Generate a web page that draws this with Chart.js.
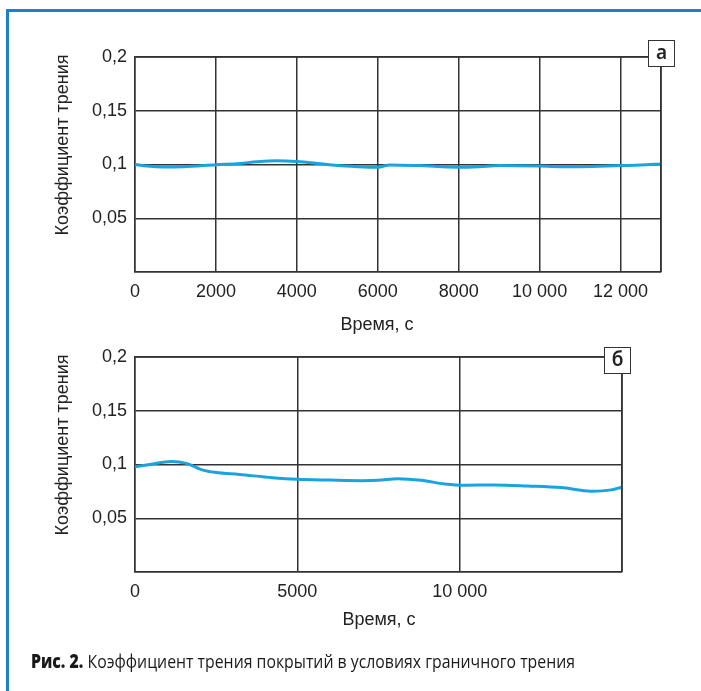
<!DOCTYPE html>
<html>
<head>
<meta charset="utf-8">
<script src="https://cdn.jsdelivr.net/npm/chart.js@4.4.0/dist/chart.umd.min.js"></script>
<style>
  html, body { margin: 0; padding: 0; background: #fff; }
  body { width: 701px; height: 691px; position: relative; overflow: hidden; font-family: "Liberation Sans", Arial, sans-serif; }
  .frame { position: absolute; left: 6px; top: 9px; width: 720px; height: 720px; border-left: 3px solid #1f80c4; border-top: 3px solid #1f80c4; }
  .wrap { position: absolute; left: 0; width: 701px; height: 340px; }
  .ytitle { position: absolute; font-size: 18px; color: #222; white-space: nowrap; transform: translate(-50%, -50%) rotate(-90deg); }
  .xtitle { position: absolute; font-size: 18px; color: #222; white-space: nowrap; transform: translate(-50%, -50%); }
  .tag { position: absolute; width: 27px; height: 27px; background: #fff; border: 1.5px solid #333; box-sizing: border-box; font-family: "Noto Sans", sans-serif; font-size: 19px; font-weight: 600; color: #222; text-align: center; line-height: 22px; }
  .caption { position: absolute; left: 31px; top: 648px; font-family: "Open Sans", sans-serif; font-size: 19px; color: #1a1a1a; white-space: nowrap; transform-origin: left top; }
  .caption b { font-weight: 800; }
</style>
</head>
<body>
<div class="frame"></div>
<div class="wrap" style="top:0px"><canvas id="c1" width="701" height="340"></canvas></div>
<div class="wrap" style="top:300px"><canvas id="c2" width="701" height="340"></canvas></div>

<div class="ytitle" style="left:62px; top:145px">Коэффициент трения</div>
<div class="xtitle" style="left:377px; top:324px">Время, с</div>
<div class="ytitle" style="left:62px; top:445px">Коэффициент трения</div>
<div class="xtitle" style="left:379px; top:619px">Время, с</div>

<div class="tag" style="left:648px; top:40px">a</div>
<div class="tag" style="left:604px; top:347px">б</div>

<div class="caption" id="cap"><b>Рис. 2.</b> Коэффициент трения покрытий в условиях граничного трения</div>

<script>
// ---- data (a) ----
const topTime = [0, 300, 700, 1200, 2000, 2600, 3000, 3500, 4000, 4500, 5000, 5500, 6000, 6300, 7000, 8000, 8500, 9000, 10000, 10500, 11000, 12000, 12500, 13000];
const topCoef = [0.1, 0.0985, 0.0977, 0.098, 0.0998, 0.101, 0.1025, 0.1035, 0.1027, 0.101, 0.099, 0.098, 0.0975, 0.0996, 0.099, 0.0975, 0.098, 0.099, 0.0985, 0.098, 0.098, 0.099, 0.0995, 0.1005];
const topXTicks = [0, 2000, 4000, 6000, 8000, 10000, 12000];
const topXLabels = ['0', '2000', '4000', '6000', '8000', '10 000', '12 000'];
const topXMax = 13000;

// ---- data (б) ----
const botTime = [0, 460, 1120, 1580, 2090, 2500, 3210, 4230, 5000, 6000, 7000, 7485, 8100, 8820, 9540, 10150, 11080, 12100, 13130, 14050, 14670, 15000];
const botCoef = [0.0979, 0.1, 0.1028, 0.101, 0.0948, 0.0926, 0.0908, 0.0877, 0.0862, 0.0855, 0.085, 0.0853, 0.0868, 0.0853, 0.0819, 0.0807, 0.081, 0.08, 0.0785, 0.0752, 0.0764, 0.079];
const botXTicks = [0, 5000, 10000];
const botXLabels = ['0', '5000', '10 000'];
const botXMax = 15000;

// ---- shared y ticks ----
const yTicks = [0, 0.05, 0.1, 0.15, 0.2];
const yLabels = ['', '0,05', '0,1', '0,15', '0,2'];

const gridColor = '#333333';
const lineColor = '#1aa3e0';

function makeChart(id, times, coefs, xTicks, xLabels, xMax, rightPad) {
  const pts = times.map((t, i) => ({ x: t, y: coefs[i] }));
  return new Chart(document.getElementById(id), {
    type: 'line',
    data: { datasets: [{ data: pts, borderColor: lineColor, borderWidth: 3, pointRadius: 0, tension: 0.4, cubicInterpolationMode: 'monotone', fill: false }] },
    options: {
      responsive: false, animation: false, events: [],
      layout: { padding: { top: 57, right: rightPad, left: 0, bottom: 0 } },
      plugins: { legend: { display: false }, tooltip: { enabled: false } },
      scales: {
        x: {
          type: 'linear', min: 0, max: xMax,
          afterBuildTicks: s => { s.ticks = xTicks.map(v => ({ value: v })).concat([{ value: xMax }]); },
          afterFit: s => { s.height = 68; },
          grid: { color: gridColor, lineWidth: 1.5, drawTicks: false },
          border: { color: gridColor, width: 1.5 },
          ticks: {
            padding: 9, color: '#222', font: { family: 'Liberation Sans', size: 18 }, maxRotation: 0, autoSkip: false,
            callback: v => { const i = xTicks.indexOf(v); return i >= 0 ? xLabels[i] : ''; }
          }
        },
        y: {
          type: 'linear', min: 0, max: 0.2,
          afterBuildTicks: s => { s.ticks = yTicks.map(v => ({ value: v })); },
          afterFit: s => { s.width = 135; },
          grid: { color: gridColor, lineWidth: 1.5, drawTicks: false },
          border: { color: gridColor, width: 1.5 },
          ticks: {
            padding: 8, color: '#222', font: { family: 'Liberation Sans', size: 18 }, autoSkip: false,
            callback: v => { const i = yTicks.findIndex(t => Math.abs(t - v) < 1e-9); return i >= 0 ? yLabels[i] : ''; }
          }
        }
      }
    },
    plugins: [{
      id: 'rightTopBorder',
      afterDraw(chart) {
        const { ctx, chartArea: a } = chart;
        ctx.save();
        ctx.strokeStyle = gridColor; ctx.lineWidth = 1.5;
        ctx.beginPath();
        ctx.moveTo(a.left, a.top); ctx.lineTo(a.right, a.top); ctx.lineTo(a.right, a.bottom);
        ctx.stroke();
        ctx.restore();
      }
    }]
  });
}

makeChart('c1', topTime, topCoef, topXTicks, topXLabels, topXMax, 701 - 661);
makeChart('c2', botTime, botCoef, botXTicks, botXLabels, botXMax, 701 - 622);

// fit caption width to the reference line length
const cap = document.getElementById('cap');
const w = cap.getBoundingClientRect().width;
cap.style.transform = 'scaleX(' + (544 / w) + ')';
</script>
</body>
</html>
